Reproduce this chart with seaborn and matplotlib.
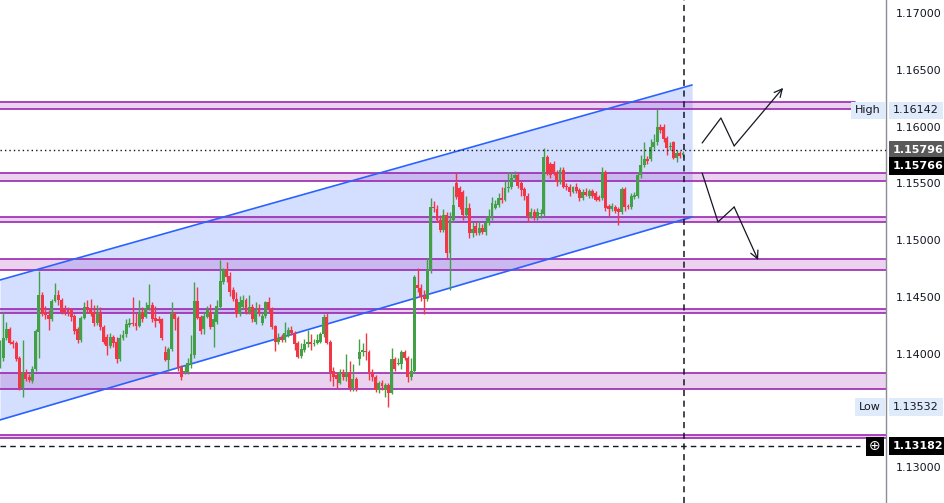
import matplotlib
matplotlib.use("Agg")
import matplotlib.pyplot as plt
import matplotlib.transforms as mtransforms
import seaborn as sns
import numpy as np
import pandas as pd

# OHLC candles
opens = [
    1.1394, 1.1396, 1.1414, 1.1422, 1.1410, 1.1409, 1.1396, 1.1370, 1.1383, 1.1379,
    1.1376, 1.1386, 1.1419, 1.1452, 1.1437, 1.1434, 1.1430, 1.1446, 1.1452, 1.1447,
    1.1438, 1.1438, 1.1438, 1.1433, 1.1422, 1.1412, 1.1431, 1.1441, 1.1439, 1.1437,
    1.1427, 1.1436, 1.1423, 1.1415, 1.1407, 1.1415, 1.1410, 1.1395, 1.1414, 1.1417,
    1.1425, 1.1427, 1.1427, 1.1424, 1.1437, 1.1432, 1.1440, 1.1443, 1.1431, 1.1430,
    1.1430, 1.1401, 1.1394, 1.1404, 1.1436, 1.1431, 1.1388, 1.1384, 1.1384, 1.1390,
    1.1399, 1.1446, 1.1432, 1.1422, 1.1432, 1.1437, 1.1423, 1.1428, 1.1441, 1.1463,
    1.1474, 1.1468, 1.1456, 1.1448, 1.1435, 1.1441, 1.1447, 1.1437, 1.1441, 1.1428,
    1.1438, 1.1427, 1.1433, 1.1445, 1.1439, 1.1424, 1.1410, 1.1415, 1.1412, 1.1416,
    1.1421, 1.1418, 1.1409, 1.1398, 1.1403, 1.1408, 1.1410, 1.1408, 1.1409, 1.1410,
    1.1417, 1.1432, 1.1410, 1.1385, 1.1381, 1.1374, 1.1383, 1.1379, 1.1383, 1.1370,
    1.1378, 1.1395, 1.1401, 1.1402, 1.1401, 1.1383, 1.1379, 1.1368, 1.1374, 1.1368,
    1.1372, 1.1365, 1.1395, 1.1391, 1.1391, 1.1401, 1.1396, 1.1379, 1.1385, 1.1460,
    1.1458, 1.1451, 1.1448, 1.1474, 1.1529, 1.1527, 1.1518, 1.1509, 1.1522, 1.1489,
    1.1518, 1.1550, 1.1546, 1.1542, 1.1522, 1.1528, 1.1506, 1.1512, 1.1506, 1.1511,
    1.1507, 1.1515, 1.1520, 1.1528, 1.1531, 1.1537, 1.1535, 1.1546, 1.1547, 1.1555,
    1.1557, 1.1550, 1.1545, 1.1539, 1.1520, 1.1525, 1.1520, 1.1523, 1.1523, 1.1573,
    1.1567, 1.1567, 1.1559, 1.1551, 1.1562, 1.1548, 1.1547, 1.1542, 1.1547, 1.1544,
    1.1537, 1.1542, 1.1539, 1.1543, 1.1541, 1.1538, 1.1537, 1.1560, 1.1530, 1.1527,
    1.1529, 1.1527, 1.1525, 1.1545, 1.1530, 1.1529, 1.1538, 1.1539, 1.1557, 1.1566,
    1.1571, 1.1571, 1.1582, 1.1586, 1.1600, 1.1600, 1.1590, 1.1582, 1.1586, 1.1572,
    1.1577, 1.1575,
]
closes = [
    1.1403, 1.1414, 1.1422, 1.1409, 1.1408, 1.1395, 1.1370, 1.1383, 1.1378, 1.1377,
    1.1386, 1.1420, 1.1452, 1.1435, 1.1434, 1.1430, 1.1446, 1.1452, 1.1447, 1.1437,
    1.1437, 1.1437, 1.1432, 1.1420, 1.1412, 1.1431, 1.1441, 1.1438, 1.1435, 1.1427,
    1.1436, 1.1423, 1.1410, 1.1407, 1.1415, 1.1409, 1.1395, 1.1414, 1.1416, 1.1426,
    1.1427, 1.1426, 1.1424, 1.1437, 1.1430, 1.1440, 1.1443, 1.1430, 1.1429, 1.1429,
    1.1414, 1.1394, 1.1404, 1.1436, 1.1430, 1.1387, 1.1379, 1.1385, 1.1392, 1.1400,
    1.1446, 1.1431, 1.1420, 1.1433, 1.1438, 1.1423, 1.1430, 1.1442, 1.1464, 1.1474,
    1.1467, 1.1454, 1.1448, 1.1435, 1.1445, 1.1447, 1.1436, 1.1441, 1.1430, 1.1438,
    1.1437, 1.1433, 1.1445, 1.1439, 1.1423, 1.1410, 1.1414, 1.1412, 1.1418, 1.1421,
    1.1418, 1.1408, 1.1397, 1.1404, 1.1408, 1.1410, 1.1408, 1.1409, 1.1412, 1.1417,
    1.1432, 1.1409, 1.1384, 1.1379, 1.1378, 1.1384, 1.1379, 1.1383, 1.1370, 1.1378,
    1.1370, 1.1401, 1.1403, 1.1401, 1.1383, 1.1379, 1.1368, 1.1374, 1.1371, 1.1372,
    1.1365, 1.1395, 1.1386, 1.1392, 1.1401, 1.1396, 1.1379, 1.1385, 1.1467, 1.1458,
    1.1450, 1.1448, 1.1474, 1.1529, 1.1528, 1.1518, 1.1509, 1.1522, 1.1489, 1.1518,
    1.1531, 1.1538, 1.1529, 1.1522, 1.1528, 1.1506, 1.1510, 1.1506, 1.1511, 1.1507,
    1.1515, 1.1520, 1.1533, 1.1532, 1.1537, 1.1535, 1.1546, 1.1547, 1.1555, 1.1557,
    1.1548, 1.1544, 1.1539, 1.1520, 1.1525, 1.1520, 1.1525, 1.1524, 1.1573, 1.1559,
    1.1557, 1.1559, 1.1551, 1.1562, 1.1547, 1.1547, 1.1542, 1.1547, 1.1543, 1.1537,
    1.1542, 1.1540, 1.1543, 1.1539, 1.1535, 1.1535, 1.1560, 1.1528, 1.1527, 1.1530,
    1.1526, 1.1525, 1.1545, 1.1529, 1.1529, 1.1539, 1.1540, 1.1557, 1.1566, 1.1571,
    1.1570, 1.1582, 1.1586, 1.1600, 1.1597, 1.1589, 1.1581, 1.1583, 1.1572, 1.1577,
    1.1574, 1.1577,
]
highs = [
    1.1412, 1.1437, 1.1428, 1.1423, 1.1412, 1.1411, 1.1398, 1.1412, 1.1386, 1.1382,
    1.1389, 1.1422, 1.1473, 1.1454, 1.1442, 1.1438, 1.1448, 1.1462, 1.1456, 1.1449,
    1.1443, 1.1441, 1.1440, 1.1435, 1.1423, 1.1433, 1.1445, 1.1447, 1.1448, 1.1443,
    1.1443, 1.1441, 1.1425, 1.1417, 1.1418, 1.1416, 1.1415, 1.1417, 1.1421, 1.1430,
    1.1431, 1.1450, 1.1436, 1.1447, 1.1441, 1.1445, 1.1461, 1.1445, 1.1442, 1.1433,
    1.1431, 1.1407, 1.1406, 1.1445, 1.1437, 1.1433, 1.1390, 1.1390, 1.1396, 1.1416,
    1.1463, 1.1459, 1.1434, 1.1437, 1.1442, 1.1444, 1.1437, 1.1447, 1.1482, 1.1475,
    1.1481, 1.1472, 1.1459, 1.1454, 1.1451, 1.1452, 1.1449, 1.1452, 1.1444, 1.1445,
    1.1444, 1.1437, 1.1446, 1.1450, 1.1441, 1.1425, 1.1418, 1.1417, 1.1428, 1.1423,
    1.1424, 1.1420, 1.1411, 1.1409, 1.1413, 1.1421, 1.1417, 1.1413, 1.1417, 1.1419,
    1.1435, 1.1436, 1.1412, 1.1388, 1.1383, 1.1386, 1.1386, 1.1400, 1.1393, 1.1391,
    1.1379, 1.1413, 1.1409, 1.1418, 1.1403, 1.1386, 1.1381, 1.1376, 1.1377, 1.1374,
    1.1374, 1.1405, 1.1397, 1.1396, 1.1403, 1.1403, 1.1398, 1.1396, 1.1469, 1.1475,
    1.1461, 1.1456, 1.1484, 1.1537, 1.1534, 1.1531, 1.1522, 1.1527, 1.1525, 1.1525,
    1.1548, 1.1560, 1.1548, 1.1544, 1.1539, 1.1533, 1.1516, 1.1516, 1.1517, 1.1514,
    1.1521, 1.1527, 1.1538, 1.1535, 1.1541, 1.1547, 1.1552, 1.1560, 1.1560, 1.1561,
    1.1559, 1.1552, 1.1547, 1.1541, 1.1528, 1.1527, 1.1528, 1.1527, 1.1581, 1.1575,
    1.1569, 1.1570, 1.1562, 1.1564, 1.1564, 1.1550, 1.1549, 1.1548, 1.1550, 1.1546,
    1.1545, 1.1546, 1.1545, 1.1545, 1.1543, 1.1540, 1.1564, 1.1562, 1.1532, 1.1533,
    1.1531, 1.1529, 1.1547, 1.1547, 1.1532, 1.1541, 1.1542, 1.1560, 1.1575, 1.1586,
    1.1574, 1.1589, 1.1593, 1.1615, 1.1602, 1.1602, 1.1592, 1.1586, 1.1587, 1.1579,
    1.1578, 1.1578,
]
lows = [
    1.1387, 1.1393, 1.1412, 1.1408, 1.1405, 1.1393, 1.1368, 1.1362, 1.1376, 1.1375,
    1.1374, 1.1385, 1.1396, 1.1433, 1.1430, 1.1421, 1.1429, 1.1445, 1.1443, 1.1435,
    1.1434, 1.1433, 1.1429, 1.1417, 1.1409, 1.1410, 1.1430, 1.1437, 1.1433, 1.1424,
    1.1425, 1.1421, 1.1408, 1.1399, 1.1405, 1.1406, 1.1392, 1.1393, 1.1412, 1.1415,
    1.1423, 1.1424, 1.1421, 1.1423, 1.1428, 1.1431, 1.1438, 1.1428, 1.1423, 1.1427,
    1.1412, 1.1393, 1.1385, 1.1402, 1.1421, 1.1385, 1.1377, 1.1382, 1.1382, 1.1387,
    1.1396, 1.1430, 1.1417, 1.1417, 1.1431, 1.1422, 1.1406, 1.1426, 1.1439, 1.1461,
    1.1463, 1.1451, 1.1446, 1.1432, 1.1433, 1.1439, 1.1435, 1.1435, 1.1428, 1.1426,
    1.1433, 1.1425, 1.1431, 1.1437, 1.1422, 1.1402, 1.1408, 1.1410, 1.1410, 1.1415,
    1.1416, 1.1403, 1.1396, 1.1396, 1.1401, 1.1406, 1.1403, 1.1407, 1.1408, 1.1409,
    1.1415, 1.1408, 1.1376, 1.1371, 1.1370, 1.1373, 1.1377, 1.1376, 1.1367, 1.1367,
    1.1367, 1.1390, 1.1398, 1.1394, 1.1377, 1.1376, 1.1366, 1.1365, 1.1368, 1.1362,
    1.1353, 1.1364, 1.1385, 1.1390, 1.1386, 1.1394, 1.1375, 1.1377, 1.1383, 1.1454,
    1.1446, 1.1435, 1.1446, 1.1471, 1.1525, 1.1516, 1.1507, 1.1507, 1.1484, 1.1456,
    1.1516, 1.1536, 1.1527, 1.1518, 1.1520, 1.1502, 1.1503, 1.1504, 1.1504, 1.1505,
    1.1504, 1.1513, 1.1518, 1.1527, 1.1529, 1.1533, 1.1534, 1.1542, 1.1545, 1.1553,
    1.1546, 1.1539, 1.1535, 1.1516, 1.1519, 1.1518, 1.1518, 1.1519, 1.1521, 1.1557,
    1.1555, 1.1557, 1.1548, 1.1549, 1.1546, 1.1544, 1.1539, 1.1541, 1.1541, 1.1534,
    1.1535, 1.1539, 1.1537, 1.1537, 1.1534, 1.1534, 1.1535, 1.1526, 1.1521, 1.1526,
    1.1524, 1.1513, 1.1523, 1.1526, 1.1527, 1.1527, 1.1536, 1.1537, 1.1555, 1.1564,
    1.1567, 1.1570, 1.1580, 1.1584, 1.1594, 1.1586, 1.1575, 1.1579, 1.1571, 1.1569,
    1.1572, 1.1573,
]

# support / resistance zones (price bands)
zone_lows = [1.16155, 1.15520, 1.15159, 1.14736, 1.14357, 1.13688, 1.13256]
zone_highs = [1.16216, 1.15591, 1.15203, 1.14833, 1.14393, 1.13829, 1.13283]

# rising channel (bar index, price)
channel_x = [0, 213.8]
channel_upper = [1.14648, 1.16366]
channel_lower = [1.13415, 1.15203]

# projected paths
up_path_x = [216.9, 222.7, 226.8, 241.9]
up_path_y = [1.15855, 1.16075, 1.15829, 1.16340]
down_path_x = [216.9, 221.8, 226.8, 234.2]
down_path_y = [1.15591, 1.15159, 1.15291, 1.14824]

# 1.13500 sits under the "Low" label in the reference, so it is not listed
price_ticks = [1.130, 1.140, 1.145, 1.150, 1.155, 1.160, 1.165, 1.170]
high_price = 1.16142
low_price = 1.13532
last_price = 1.15766
ref_price = 1.15796
alert_price = 1.13182

n = min(len(opens), len(closes), len(highs), len(lows))
df = pd.DataFrame({
    "idx": np.arange(n),
    "open": opens[:n], "close": closes[:n],
    "high": highs[:n], "low": lows[:n],
})
df["high"] = df[["high", "open", "close"]].max(axis=1)
df["low"] = df[["low", "open", "close"]].min(axis=1)
df["up"] = df["close"] >= df["open"]
green, red = "#43a047", "#f23645"
df["color"] = np.where(df["up"], green, red)
df["bottom"] = df[["open", "close"]].min(axis=1)
df["body"] = (df["close"] - df["open"]).abs().clip(lower=0.00005)

sns.set_style("white")
plt.rcParams["font.family"] = ["DejaVu Sans"]

fig = plt.figure(figsize=(9.45, 5.03), dpi=100)
ax = fig.add_axes([0, 0, 886 / 945, 1])
ax.set_xlim(0, 273.7)
ax.set_ylim(1.126832, 1.171146)

# channel
ax.fill_between(channel_x, channel_lower, channel_upper, color="#2962ff", alpha=0.2, lw=0, zorder=1)
chan = pd.DataFrame({
    "x": channel_x * 2,
    "y": channel_upper + channel_lower,
    "side": ["upper", "upper", "lower", "lower"],
})
sns.lineplot(data=chan, x="x", y="y", hue="side", palette=["#2962ff", "#2962ff"],
             legend=False, ax=ax, lw=1.2, zorder=4)
ax.set_xlabel("")
ax.set_ylabel("")

# zones
purple = "#9c27b0"
for k, (lo, hi) in enumerate(zip(zone_lows, zone_highs)):
    right = 855 / 886 if k == 0 else 1.0
    ax.axhspan(lo, hi, xmin=0, xmax=right, color=purple, alpha=0.2, lw=0, zorder=2)
    ax.axhline(lo, xmin=0, xmax=right, color=purple, lw=1.2, zorder=2.5)
    ax.axhline(hi, xmin=0, xmax=right, color=purple, lw=1.2, zorder=2.5)

# candles
ax.vlines(df["idx"], df["low"], df["high"], colors=df["color"], lw=1.0, zorder=5)
ax.bar(df["idx"], df["body"], bottom=df["bottom"], width=0.9,
       color=df["color"], linewidth=0, zorder=6)

# reference lines
ax.axhline(ref_price, color="#131722", ls=(0, (1, 2.2)), lw=1.0, zorder=7)
ax.axhline(alert_price, xmax=860 / 886, color="#131722", ls=(0, (4, 3)), lw=1.0, zorder=7)
ax.axvline(n - 0.7, color="#131722", ls=(0, (4, 3)), lw=1.1, zorder=7)

# projected paths
for px, py in [(up_path_x, up_path_y), (down_path_x, down_path_y)]:
    ax.plot(px[:3], py[:3], color="#131722", lw=0.9, zorder=8)
    ax.annotate("", xy=(px[3], py[3]), xytext=(px[2], py[2]),
                arrowprops=dict(arrowstyle="->", color="#131722", lw=0.9,
                                mutation_scale=14, shrinkA=0, shrinkB=0),
                zorder=8)

# right price axis
ax.yaxis.tick_right()
ax.set_yticks(price_ticks)
ax.set_yticklabels([f"{t:.5f}" for t in price_ticks])
ax.tick_params(axis="y", length=0, pad=7, labelsize=8, labelcolor="#131722")
ax.set_xticks([])
for side in ["left", "top", "bottom"]:
    ax.spines[side].set_visible(False)
ax.spines["right"].set_color("#8a8d96")
ax.spines["right"].set_linewidth(1.0)

trans = mtransforms.blended_transform_factory(ax.transAxes, ax.transData)
lab_x = 893 / 886
light = "#dfeafb"


def price_box(y, text, fc, tc, weight="normal"):
    ax.text(lab_x, y, text, transform=trans, fontsize=8, color=tc, va="center", ha="left",
            fontweight=weight, zorder=20, clip_on=False,
            bbox=dict(boxstyle="square,pad=0.35", fc=fc, ec="none"))


price_box(high_price, f"{high_price:.5f}", light, "#131722")
price_box(ref_price, f"{ref_price:.5f}", "#5a5a5a", "white", "bold")
price_box(1.15652, f"{last_price:.5f}", "black", "white", "bold")
price_box(low_price, f"{low_price:.5f}", light, "#131722")
price_box(alert_price, f"{alert_price:.5f}", "black", "white", "bold")

for y, text in [(high_price, "High"), (low_price, "Low")]:
    ax.text(881 / 886, y, text, transform=trans, fontsize=8, color="#131722", va="center",
            ha="right", zorder=20, bbox=dict(boxstyle="square,pad=0.35", fc=light, ec="none"))

ax.text(875 / 886, alert_price, "\u2295", transform=trans, fontsize=10, color="white",
        va="center", ha="center", zorder=20,
        bbox=dict(boxstyle="square,pad=0.2", fc="black", ec="none"))

fig.savefig("out.png", dpi=100)
plt.close(fig)
